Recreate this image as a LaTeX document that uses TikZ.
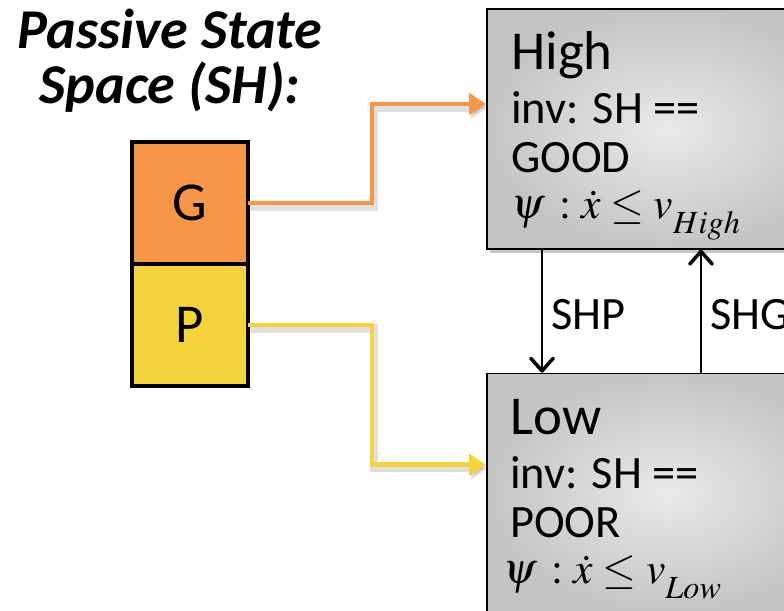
\documentclass[tikz,border=0pt]{standalone}
\usepackage{mathptmx}
\usepackage[no-math]{fontspec}
\setmainfont{Carlito}
\usetikzlibrary{positioning}
\usetikzlibrary{shadows}
\usetikzlibrary{arrows.meta}

\definecolor{goodorange}{HTML}{F79646}
\definecolor{pooryellow}{HTML}{F5D33A}

% lowered subscript for the speed bounds
\newcommand{\modesub}[1]{\raisebox{-6pt}{$\scriptstyle #1$}}

\begin{document}
\begin{tikzpicture}[
    cell/.style={draw, line width=2.8pt, minimum width=2.9cm, minimum height=3.05cm, outer sep=0pt, font=\fontsize{39}{39}\selectfont},
    state/.style={draw, line width=1.2pt, inner color=gray!17, outer color=gray!46, minimum width=9cm, minimum height=6cm, drop shadow={shadow xshift=2pt, shadow yshift=-3pt, opacity=0.45}},
    statetext/.style={inner sep=0pt, align=left, anchor=north west, font=\fontsize{33}{34.5}\selectfont},
    wire/.style={line width=3.3pt, -{Triangle[length=12pt, width=15pt]},
        preaction={draw=black, opacity=0.12, line width=6pt, transform canvas={shift={(1.5pt,-2.5pt)}}}},
    trans/.style={line width=1.1pt, -{Straight Barb[length=9pt, width=16pt, line width=2.5pt, round]}},
    node distance=0.8cm
]
  \useasboundingbox (0,0) rectangle (19.6,15.275);

  % Passive state space: two stacked cells
  \node[cell, fill=goodorange] (g) at (4.75,10.2) {G};
  \node[cell, fill=pooryellow, below=0pt of g] (p) {P};

  % Heading over the cells
  \node[align=center, inner sep=0pt, font=\bfseries\itshape\fontsize{40}{39}\selectfont] (title) at (4.25,13.75) {Passive State\\Space (SH):};

  % High mode (TOP)
  \node[state, anchor=north west] (high) at (12.15,15.075) {};
  \node[statetext, below right=0.58cm and 0.625cm of high.north west] (hightext)
      {{\fontsize{39}{39}\selectfont High}\\[4pt]inv: SH ==\\GOOD\\[-1.5pt]{\fontsize{31}{34.5}\selectfont$\psi\,: \dot{x} \leq v_{\modesub{High}}$}};

  % Low mode (BOTTOM)
  \node[state, below=3.075cm of high] (low) {};
  \node[statetext, below right=0.66cm and 0.6cm of low.north west] (lowtext)
      {{\fontsize{39}{39}\selectfont Low}\\[4pt]inv: SH ==\\POOR\\[-1.5pt]\hspace*{-0.17cm}{\fontsize{31}{34.5}\selectfont$\psi\,: \dot{x} \leq v_{\modesub{Low}}$}};

  % Where the cell wires enter the modes
  \coordinate (hightip) at ([yshift=-2.4cm]high.north west);
  \coordinate (lowtip) at ([yshift=-2.3cm]low.north west);

  % Wires from the cells
  \draw[wire, goodorange] (g.east) -- ++(3.1,0) |- (hightip);
  \draw[wire, pooryellow] (p.east) -- ++(3.1,0) |- (lowtip);

  % Switching between the modes
  \draw[trans] ([xshift=1.4cm]high.south west) coordinate (shp) -- (shp |- low.north)
      node[pos=0.53, right=0.1cm, font=\fontsize{33}{33}\selectfont] {SHP};
  \draw[trans] ([xshift=5.375cm]low.north west) coordinate (shg) -- (shg |- high.south)
      node[pos=0.47, right=0.1cm, font=\fontsize{33}{33}\selectfont] {SHG};

\end{tikzpicture}
\end{document}
